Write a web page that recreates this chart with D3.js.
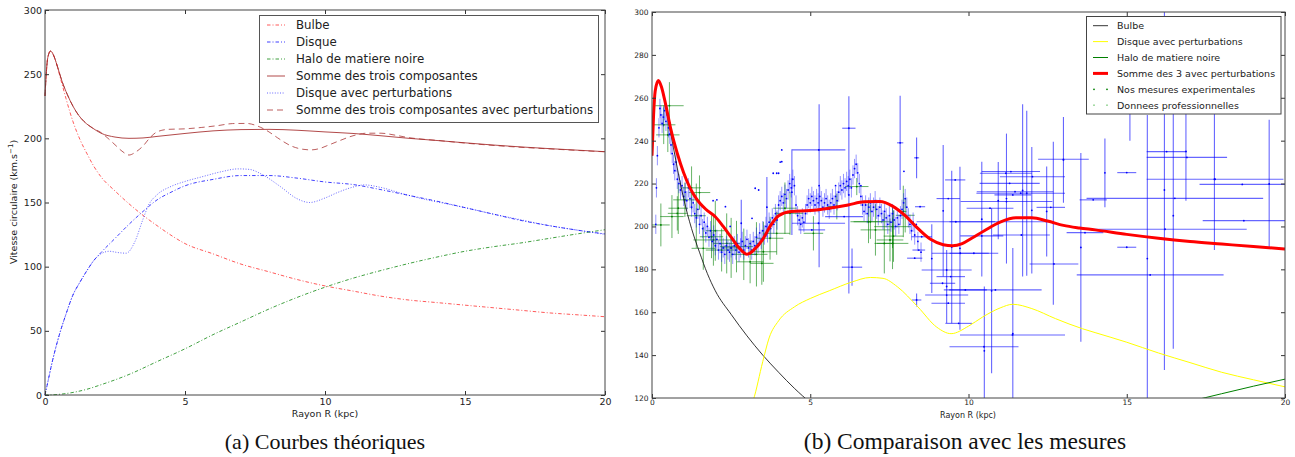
<!DOCTYPE html>
<html lang="fr">
<head>
<meta charset="UTF-8">
<title>Courbes de rotation</title>
<script src="https://cdn.jsdelivr.net/npm/d3@7"></script>
<style>
  body { margin: 0; background: #fff; }
  text { font-family: "DejaVu Sans", sans-serif; fill: #222; }
  .caption { font-family: "Liberation Serif", "DejaVu Serif", serif; fill: #111; }
</style>
</head>
<body>
<div id="fig"></div>
<script>
// ---- theoretical curves (kpc, km/s) ----
const rBulbe = [0,0.05,0.1,0.2,0.3,0.4,0.5,0.6,0.75,1,1.25,1.5,1.75,2,2.5,3,3.5,4,4.5,5,6,7,8,9,10,11,12,13,14,15,16,17,18,19,20];
const vBulbe = [233,252,263,268,265,259,251,243,231,213,199,188,178,170,159,149,140,132,124.5,118,110,102,96,90,85,81,77,74,72,70,68,66,64,62.5,61];

const rDisque = [0,0.1,0.25,0.5,0.75,1,1.25,1.5,1.75,2,2.5,3,3.5,4,4.5,5,6,7,8,9,10,11,12,13,14,15,16,17,18,19,20];
const vDisque = [0,10,25,46,63,78,88,97,105,111,122,133,143,152,158,163,168,171,171,169,166,164,160,155.5,151,146,141,136,132,128.5,125.5];

const rHalo = [0,0.5,1,1.5,2,3,4,5,6,7,8,9,10,11,12,13,14,15,16,17,18,19,20];
const vHalo = [0,0.5,2,4.5,8,16,26,36,47,57,67,76,84,91,97,102.5,107.5,112,115.5,118.5,122,125.5,128.8];

const rSomme = [0,0.05,0.1,0.2,0.3,0.4,0.5,0.6,0.8,1,1.2,1.4,1.7,2,2.5,3,3.5,4,5,6,7,8,9,10,11,12,13,14,15,16,17,18,19,20];
const vSomme = [233,252,263,268,265,259,252,245,234,225,218,213,208,204,201,200,200.3,201.5,203.8,205.8,206.8,207,206.3,205,203.8,202,200,198.3,196.5,194.8,193.3,192,190.8,189.6];

const rDisqueP = [0,0.1,0.25,0.5,0.75,1,1.25,1.5,1.75,2,2.3,2.6,2.9,3.2,3.5,3.7,4,4.5,5,5.6,6.3,6.9,7.3,7.75,8.4,9,9.45,10,10.45,11,11.4,12,12.75,13.6,14,15,16,17,18,19,20];
const vDisqueP = [0,10,25,46,63,78,88,97,105,110,112,111,110.5,119,137,148,156,162.5,166.4,170,174,176.2,175.8,171.9,162.5,153,150,153.5,157.8,162,163.7,161.7,157,152.3,150.5,146,141,136.5,132,128.5,125.2];

const rSommeP = [0,0.05,0.1,0.2,0.3,0.4,0.5,0.6,0.8,1,1.2,1.4,1.7,2,2.25,2.5,2.75,3,3.25,3.5,3.75,4,4.4,5,5.6,6.2,6.7,7.2,7.6,8,8.3,8.8,9.2,9.5,9.8,10.1,10.5,11,11.5,12,12.5,13,13.5,14,15,16,17,18,19,20];
const vSommeP = [233,252,263,268,265,259,252,245,234,225,218,213,208,204.5,200,195,190,187,189.5,194,200.5,205,207,207.4,208.5,210,211.5,211.6,209.5,205,200.5,194,191.5,191,192,194.5,198,202,204,204,202.5,200.5,199.3,198.4,196.3,194.5,193,191.8,190.6,189.5];

// ---- measurements: dense blue points with small error ----
const proR = [0.12,0.14,0.17,0.22,0.25,0.28,0.32,0.36,0.40,0.44,0.48,0.52,0.56,0.60,0.64,0.68,0.72,0.76,0.80,
  0.85,0.90,0.95,1.00,1.05,1.10,1.15,1.20,1.25,1.30,1.35,1.40,1.45,1.50,1.55,1.60,1.65,1.70,1.75,1.80,1.85,1.90,1.95,2.00,
  2.05,2.10,2.15,2.20,2.25,2.30,2.35,2.40,2.45,2.50,2.55,2.60,2.65,2.70,2.75,2.80,2.85,2.90,2.95,3.00,
  3.05,3.10,3.15,3.20,3.25,3.30,3.35,3.40,3.45,3.50,3.55,3.60,3.65,3.70,3.75,3.80,3.85,3.90,3.95,4.00,
  4.05,4.10,4.15,4.20,4.25,4.30,4.35,4.40,4.45,4.50,4.55,4.60,4.65,4.70,4.75,4.80,4.85,4.90,4.95,5.00,
  5.05,5.10,5.15,5.20,5.25,5.30,5.35,5.40,5.45,5.50,5.55,5.60,5.65,5.70,5.75,5.80,5.85,5.90,5.95,6.00,
  6.05,6.10,6.15,6.20,6.25,6.30,6.35,6.40,6.45,6.50,6.55,6.60,6.65,6.70,6.75,6.80,6.85,6.90,6.95,7.00,
  7.05,7.10,7.15,7.20,7.25,7.30,7.35,7.40,7.45,7.50,7.55,7.60,7.65,7.70,7.75,7.80,7.85,7.90,7.95,8.00,
  8.05,8.10,8.15,8.20,8.25,8.30,8.40,8.50];
const proV = [201,218,233,246,255,252,248,251,254,249,252,246,243,238,234,229,226,230,222,
  220,217,219,214,216,212,218,213,209,211,206,204,208,201,205,199,202,197,200,195,198,193,196,191,
  194,189,192,188,190,187,191,189,188,190,187,191,189,192,188,190,193,189,191,194,
  190,192,189,193,191,195,192,197,194,198,196,200,197,202,199,204,201,206,203,210,
  212,214,211,215,213,217,220,218,222,219,210,205,203,201,204,202,206,210,213,211,
  214,212,210,213,211,214,212,209,211,213,210,208,211,213,210,214,212,216,219,217,
  220,218,221,219,222,218,224,227,229,225,220,214,210,207,210,206,209,211,207,209,
  212,208,205,209,206,203,207,204,201,205,202,206,203,200,204,201,205,208,211,213,
  209,204,201,198,202,196,193,188];
const proErr = 4.5;
const isoR = [2.05,2.32,2.47,3.16,3.26,3.37,3.83,3.94,4.0,4.05,4.1,4.1,1.93,7.96,6.6,5.8,8.35];
const isoV = [212.4,209.2,200,203.8,217.8,217,224.8,224.8,224.8,230,235.7,230.2,212,225.7,219,219,201];

// ---- measurements: blue bars with large error ----
const bigR  = [5.27,5.28,4.42,6.22,6.22,6.32,7.84,8.36,3.63,2.82,5.26,6.07,5.05,8.47,9.58,9.36,9.6,8.52,8.43,9.74,9.31,9.44,9.18,9.9,9.31,9.36,8.36,9.69,8.3,9.2,9.47,9.73,10.42,9.31,8.84,
  16.26,16.9,17.79,18.65,16.52,18.7,16.21,15.74,13.94,13.68,13.0,11.34,11.18,12.02,11.3,11.47,11.65,11.4,11.2,12.6,10.68,11.04,11.67,10.42,10.17,12.7,10.85,11.39,10.49,15.0,15.0,
  15.1,15.65,16.19,16.47,16.87,17.77,19.5,14.31,13.55,13.0,12.68,12.47,12.0,11.84,11.71,11.4,11.2,10.94,10.73,10.5];
const bigV  = [235.7,219,216,245.8,214.7,181,239,232,209,201.5,201.5,204.6,198.4,209.2,221.7,213,202.2,195.2,189,187.5,179.7,176.6,173.5,170.4,168,164.2,165.7,154.8,185.2,207.3,190.4,189.8,203.4,172,185,
  234.9,232.2,222,219.6,213.1,202.7,198.7,177.4,212.4,197.1,231.3,225.6,224.8,223.2,220.1,216.2,215.5,214.7,211.6,208.9,208.5,202.2,196,195.6,187.5,182.5,170.4,149.4,143.9,190.3,225.1,
  260,185,217,205,235,222,219.8,225,190.2,231,201.5,207,207.5,215.5,216.8,150,213,212,170,142];
const bigXe = [0.84,0,0,0.21,0,0.32,0.1,0.08,0,0,0.84,0.6,0.42,0.16,0.32,0.37,1.24,0.32,0.2,0.9,0.79,0.45,0.4,0.68,0.68,0.53,0.15,0.42,0.24,0,0,0,0,0,0,
  0.63,1.27,2.16,1.35,2.79,1.3,2.58,2.32,0.43,0.58,0.8,0.92,0.82,1.03,0.95,1.21,1.4,0.58,1.45,0.45,0.74,1.64,0.9,0.68,0.77,0.77,1.46,1.66,1.09,0.3,0.3,
  0,0,0,0,0,0,0,0,0,0,0,0,0,0,0,0,0,0,0,0];
const bigYe = [0,38,20,0,46,8.7,22,9.5,14,11,0,0,0,0,0,0,0,0,0,0,0,0,0,0,0,0,3,0,0,30.7,35.6,38,26.8,17,16,
  0,0,0,0,0,0,0,0,0,0,0,0,0,0,0,0,0,0,0,0,0,0,0,0,0,0,0,0,0,0,0,
  20,67,84,62,23,33,30,16,44,20,38,21,29.5,38.5,40.2,40,30.3,18,38.5,30];

// ---- measurements: green bars ----
const greenR  = [0.55,0.37,0.5,0.28,1.5,1.04,0.83,0.8,0.63,1.88,1.94,1.62,2.36,2.67,3.52,3.1,3.47,3.73,3.94,4.2,4.36,5.1,5.84,6.84,7.06,7.52,7.34,7.63,6.47,6.9,7.6,7.6,7.94,8.0,2.2,2.9,1.25,2.5,3.3,1.4,2.0];
const greenV  = [256.3,247.4,242.7,200.7,215.8,212.4,208.5,206.1,204.6,195.2,193.7,189.8,192.1,190.6,188.2,183.5,182.8,194.5,196.8,208.5,206.1,196.8,209.3,202.2,198.4,193.7,192.1,195.5,218.6,202.2,199.9,192.1,207,205.2,189,187,218,190,187,205,198];
const greenXe = [0.45,0.37,0.37,0.28,0.34,0.37,0.31,0.3,0.37,0.37,0.63,0.37,0.42,0.52,0.42,0.42,0.37,0.42,0.42,0.37,0.42,0.31,0.3,0.47,0.47,0.42,0.31,0.31,0.37,0.63,0.58,0.5,0.1,0.3,0.5,0.4,0.3,0.3,0.35,0.3,0.3];
const greenYe = [11,9,8,10,8,8,12,8,10,10,12,10,14,12,14,10,10,10,10,12,10,8,6,10,12,10,14,12,4,8,10,12,12,8,10,12,10,14,15,15,14];

const xTicks = [0,5,10,15,20];
const yTicksA = [0,50,100,150,200,250,300];
const yTicksB = [120,140,160,180,200,220,240,260,280,300];

const svg = d3.select("#fig").append("svg")
  .attr("width", 1295).attr("height", 457);

function axes(x, y, yt, fs, padX, padY) {
  const [x0, x1] = x.range(), [y0, y1] = y.range();
  const g = svg.append("g");
  const fmt = d3.format("d");
  g.append("g").attr("transform", "translate(0," + y0 + ")")
    .call(d3.axisBottom(x).tickValues(xTicks).tickFormat(fmt).tickSize(-4).tickPadding(padX));
  g.append("g").attr("transform", "translate(0," + y1 + ")")
    .call(d3.axisTop(x).tickValues(xTicks).tickFormat("").tickSize(-4));
  g.append("g").attr("transform", "translate(" + x0 + ",0)")
    .call(d3.axisLeft(y).tickValues(yt).tickFormat(fmt).tickSize(-4).tickPadding(padY));
  g.append("g").attr("transform", "translate(" + x1 + ",0)")
    .call(d3.axisRight(y).tickValues(yt).tickFormat("").tickSize(-4));
  g.selectAll(".domain").remove();
  g.selectAll(".tick line").attr("stroke", "#333");
  g.selectAll(".tick text").style("font-size", fs + "px").style("font-family", "DejaVu Sans").attr("fill", "#222");
  g.append("rect").attr("x", x0).attr("y", y1).attr("width", x1 - x0).attr("height", y0 - y1)
    .attr("fill", "none").attr("stroke", "#444").attr("stroke-width", 1);
}

function curve(g, x, y, rs, vs, color, width, dash, op) {
  const line = d3.line().x(d => x(d[0])).y(d => y(d[1])).curve(d3.curveMonotoneX);
  g.append("path").datum(rs.map((r, i) => [r, vs[i]]))
    .attr("d", line).attr("fill", "none").attr("stroke", color)
    .attr("stroke-width", width).attr("stroke-dasharray", dash).attr("stroke-opacity", op);
}

function errorbars(g, x, y, rs, vs, xe, ye, color, op, width) {
  const pts = rs.map((r, i) => ({r: r, v: vs[i], xe: xe[i], ye: ye[i]}));
  const sel = g.append("g").selectAll("g").data(pts).enter().append("g");
  sel.filter(d => d.xe > 0).append("line")
    .attr("x1", d => x(d.r - d.xe)).attr("x2", d => x(d.r + d.xe))
    .attr("y1", d => y(d.v)).attr("y2", d => y(d.v));
  sel.filter(d => d.ye > 0).append("line")
    .attr("x1", d => x(d.r)).attr("x2", d => x(d.r))
    .attr("y1", d => y(d.v - d.ye)).attr("y2", d => y(d.v + d.ye));
  sel.selectAll("line").attr("stroke", color).attr("stroke-opacity", op).attr("stroke-width", width);
  sel.append("circle").attr("cx", d => x(d.r)).attr("cy", d => y(d.v)).attr("r", 0.9)
    .attr("fill", color);
}

// =========== panel (a) ===========
const xa = d3.scaleLinear().domain([0, 20]).range([45, 605]);
const ya = d3.scaleLinear().domain([0, 300]).range([395, 10]);
const ga = svg.append("g");
const dd = "3.5,2,1,2";
curve(ga, xa, ya, rBulbe, vBulbe, "red", 1, dd, 0.65);
curve(ga, xa, ya, rDisque, vDisque, "blue", 1, dd, 0.75);
curve(ga, xa, ya, rHalo, vHalo, "green", 1, dd, 0.75);
curve(ga, xa, ya, rSomme, vSomme, "#a52a2a", 1, null, 0.85);
curve(ga, xa, ya, rDisqueP, vDisqueP, "blue", 1, "1,1.6", 0.6);
curve(ga, xa, ya, rSommeP, vSommeP, "#a52a2a", 1, "6,4", 0.75);
axes(xa, ya, yTicksA, 9.5, 3, 3);

svg.append("text").attr("x", 325).attr("y", 417).attr("text-anchor", "middle")
  .style("font-size", "9.5px").text("Rayon R (kpc)");
const yl = svg.append("text").attr("transform", "translate(17,202) rotate(-90)")
  .attr("text-anchor", "middle").style("font-size", "9.5px");
yl.append("tspan").text("Vitesse circulaire (km.s");
yl.append("tspan").attr("dy", -4).style("font-size", "7px").text("\u22121");
yl.append("tspan").attr("dy", 4).text(")");

const legA = [
  {t: "Bulbe", c: "red", d: dd, o: 0.65},
  {t: "Disque", c: "blue", d: dd, o: 0.75},
  {t: "Halo de matiere noire", c: "green", d: dd, o: 0.75},
  {t: "Somme des trois composantes", c: "#a52a2a", d: null, o: 0.85},
  {t: "Disque avec perturbations", c: "blue", d: "1,1.6", o: 0.6},
  {t: "Somme des trois composantes avec perturbations", c: "#a52a2a", d: "6,4", o: 0.75}
];
const la = svg.append("g");
la.append("rect").attr("x", 259.5).attr("y", 15.5).attr("width", 339).attr("height", 107)
  .attr("fill", "#fff").attr("stroke", "#555").attr("stroke-width", 1);
legA.forEach((e, i) => {
  const yy = 25 + i * 17;
  la.append("line").attr("x1", 267).attr("x2", 285).attr("y1", yy).attr("y2", yy)
    .attr("stroke", e.c).attr("stroke-dasharray", e.d).attr("stroke-opacity", e.o);
  la.append("text").attr("x", 296).attr("y", yy + 4.3).style("font-size", "11.8px").text(e.t);
});

// =========== panel (b) ===========
const xb = d3.scaleLinear().domain([0, 20]).range([652, 1285]);
const yb = d3.scaleLinear().domain([120, 300]).range([398, 12]);
svg.append("clipPath").attr("id", "clipb").append("rect")
  .attr("x", 652).attr("y", 12).attr("width", 633).attr("height", 386);
const gb = svg.append("g").attr("clip-path", "url(#clipb)");

errorbars(gb, xb, yb, greenR, greenV, greenXe, greenYe, "green", 0.6, 1);
errorbars(gb, xb, yb, bigR, bigV, bigXe, bigYe, "blue", 0.6, 1.1);
errorbars(gb, xb, yb, proR, proV, proR.map(() => 0), proR.map(() => proErr), "blue", 0.42, 1);
gb.append("g").selectAll("circle").data(isoR).enter().append("circle")
  .attr("cx", d => xb(d)).attr("cy", (d, i) => yb(isoV[i])).attr("r", 0.9).attr("fill", "blue");

curve(gb, xb, yb, rBulbe, vBulbe, "#000", 0.8, null, 1);
curve(gb, xb, yb, rDisqueP, vDisqueP, "#ffff00", 1, null, 1);
curve(gb, xb, yb, rHalo, vHalo, "green", 1, null, 1);
curve(gb, xb, yb, rSommeP, vSommeP, "red", 3, null, 1);
axes(xb, yb, yTicksB, 7.5, 2, 3.5);

svg.append("text").attr("x", 968).attr("y", 418).attr("text-anchor", "middle")
  .style("font-size", "8px").text("Rayon R (kpc)");

const legB = [
  {t: "Bulbe", c: "#000", w: 0.8},
  {t: "Disque avec perturbations", c: "#ffff00", w: 1},
  {t: "Halo de matiere noire", c: "green", w: 1},
  {t: "Somme des 3 avec perturbations", c: "red", w: 3},
  {t: "Nos mesures experimentales", c: "green", dot: 1},
  {t: "Donnees professionnelles", c: "#8fd18f", dot: 1}
];
const lb = svg.append("g");
lb.append("rect").attr("x", 1086.5).attr("y", 16.5).attr("width", 194.5).attr("height", 97.5)
  .attr("fill", "#fff").attr("stroke", "#444").attr("stroke-width", 1);
legB.forEach((e, i) => {
  const yy = 25.7 + i * 15.9;
  if (e.dot) {
    [1094, 1107].forEach(px => lb.append("circle").attr("cx", px).attr("cy", yy).attr("r", 0.9).attr("fill", e.c));
  } else {
    lb.append("line").attr("x1", 1093).attr("x2", 1108).attr("y1", yy).attr("y2", yy)
      .attr("stroke", e.c).attr("stroke-width", e.w);
  }
  lb.append("text").attr("x", 1117).attr("y", yy + 3.4).style("font-size", "9.5px").text(e.t);
});

// captions
svg.append("text").attr("class", "caption").attr("x", 325).attr("y", 449)
  .attr("text-anchor", "middle").style("font-size", "22px").text("(a) Courbes théoriques");
svg.append("text").attr("class", "caption").attr("x", 965).attr("y", 449)
  .attr("text-anchor", "middle").style("font-size", "23.5px").text("(b) Comparaison avec les mesures");
</script>
</body>
</html>
